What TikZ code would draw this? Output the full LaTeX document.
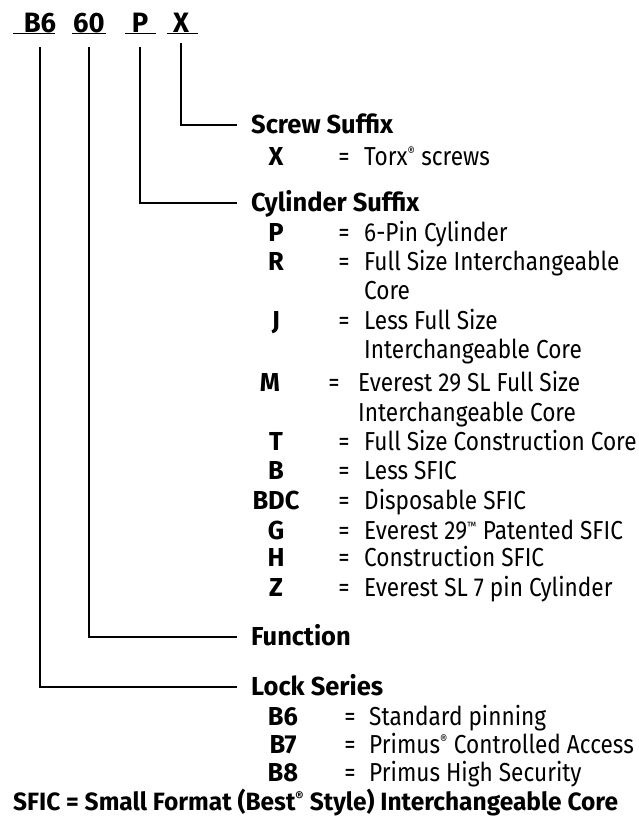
\documentclass[tikz,border=0pt]{standalone}
\usepackage{fontspec}
\setmainfont{Fira Sans}[FakeStretch=0.87, BoldFeatures={FakeStretch=0.98}]
\usetikzlibrary{positioning}
\tikzset{
  txt/.style={inner sep=0pt, text height=17.9pt, text depth=0pt},
  hcode/.style={inner sep=0pt, text height=19.3pt, text depth=0pt,
                font=\fontsize{28}{30}\selectfont\bfseries},
  ttl/.style={txt, anchor=west, font=\fontsize{26}{28}\selectfont\bfseries},
  code/.style={txt, font=\fontsize{26}{28}\selectfont\bfseries},
  eqs/.style={txt, font=\fontsize{26}{28}\selectfont},
  desc/.style={txt, anchor=west, font=\fontsize{26}{28}\selectfont},
  lead/.style={line width=1.6pt},
  uline/.style={line width=1.4pt},
}
\newcommand{\regmk}{\textsuperscript{\fontsize{13}{13}\selectfont ®}}
\newcommand{\tmmk}{\textsuperscript{\fontsize{12}{12}\selectfont ™}}

\begin{document}
\begin{tikzpicture}[x=1pt,y=-1pt]
\useasboundingbox (0,0) rectangle (639,820);

% ---- part number header ----
\node[hcode] (hB6) at (40,22.5) {B6};
\node[hcode] (h60) at (89,22.5) {60};
\node[hcode] (hP)  at (140,22.5) {P};
\node[hcode] (hX)  at (181,22.5) {X};
\foreach \a/\b in {13/55, 72/106, 125/156, 167/198}
  \draw[uline] (\a,33.5) -- (\b,33.5);

% ---- group titles ----
\node[ttl] (scr) at (251,125) {Screw Suffix};
\node[ttl] (cyl) at (251,203) {Cylinder Suffix};
\node[ttl] (fun) at (251,637) {Function};
\node[ttl] (ser) at (251,687) {Lock Series};

% ---- leaders ----
\draw[lead] ([yshift=-11pt]hX.south)  |- ([xshift=-14pt]scr.west);
\draw[lead] ([yshift=-15pt]hP.south)  |- ([xshift=-14pt]cyl.west);
\draw[lead] ([yshift=-15pt]h60.south) |- ([xshift=-14pt]fun.west);
\draw[lead] ([yshift=-15pt]hB6.south) |- ([xshift=-14pt]ser.west);

% ---- screw suffix ----
\node[code] (sX) at (276,157) {X};
\node[eqs] (sXe) at (344,157) {=};
\node[desc] (sXd) at (364,157) {Torx\regmk{} screws};

% ---- cylinder suffix ----
\foreach \y/\c/\d in {233/P/6-Pin Cylinder, 262/R/Full Size Interchangeable,
    321/J/Less Full Size, 442/T/Full Size Construction Core, 471/B/Less SFIC,
    501/BDC/Disposable SFIC, 531/G/{Everest 29\tmmk{} Patented SFIC},
    558/H/Construction SFIC, 588/Z/Everest SL 7 pin Cylinder} {
  \node[code] (c\c) at (276,\y) {\c};
  \node[eqs] (c\c e) at (344,\y) {=};
  \node[desc] (c\c d) at (364,\y) {\d};
}
\node[desc] (cRd2) at (364,291) {Core};
\node[desc] (cJd2) at (364,350) {Interchangeable Core};
\node[code] (cM) at (270,383) {M};
\node[eqs] (cMe) at (334,383) {=};
\node[desc] (cMd) at (358,383) {Everest 29 SL Full Size};
\node[desc] (cMd2) at (358,413) {Interchangeable Core};

% ---- lock series ----
\foreach \y/\c/\d in {717/B6/Standard pinning, 745/B7/{Primus\regmk{} Controlled Access},
    773/B8/Primus High Security} {
  \node[code] (l\c) at (283,\y) {\c};
  \node[eqs] (l\c e) at (350,\y) {=};
  \node[desc] (l\c d) at (369,\y) {\d};
}

% ---- footnote ----
\node[ttl, font=\fontsize{25}{27}\selectfont\bfseries] (note) at (13,802)
  {SFIC = Small Format (Best\regmk{} Style) Interchangeable Core};

\end{tikzpicture}
\end{document}
